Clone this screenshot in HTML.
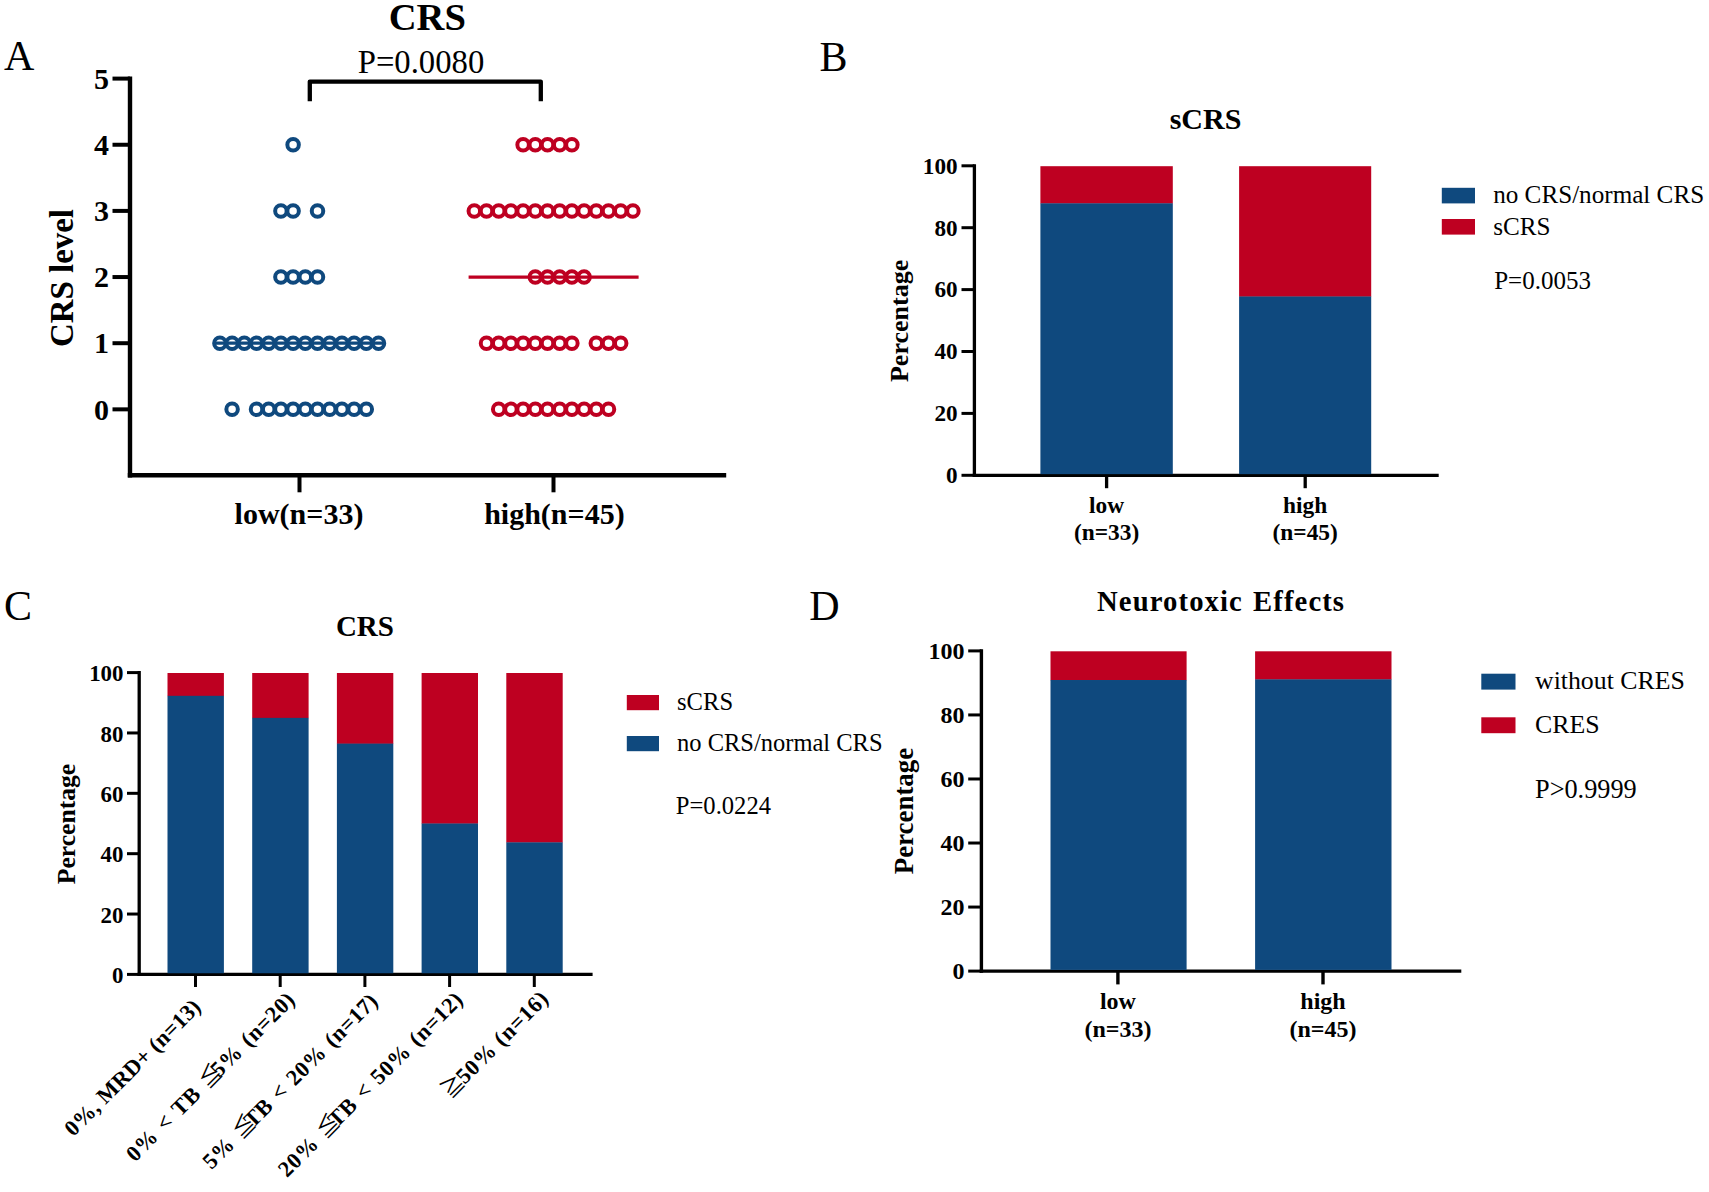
<!DOCTYPE html>
<html lang="en">
<head>
<meta charset="utf-8">
<title>CRS and neurotoxic effects by tumor burden</title>
<style>
html,body{margin:0;padding:0;background:#fff;}
body{width:1709px;height:1192px;overflow:hidden;}
svg{display:block;}
text{font-family:"Liberation Serif","Noto Serif CJK SC",serif;fill:#000;}
text.b{font-weight:bold;}
text.r{font-weight:normal;}
.cj{font-family:"Noto Sans CJK SC","Noto Serif CJK SC",sans-serif;font-weight:normal;}
</style>
</head>
<body>
<svg width="1709" height="1192" viewBox="0 0 1709 1192">
<rect width="1709" height="1192" fill="#ffffff"/>
<text class="r" x="4.00" y="70.40" font-size="42" text-anchor="start">A</text>
<text class="r" x="819.50" y="70.50" font-size="42" text-anchor="start">B</text>
<text class="r" x="4.00" y="620.00" font-size="42" text-anchor="start">C</text>
<text class="r" x="809.30" y="619.50" font-size="42" text-anchor="start">D</text>
<line x1="130.00" y1="76.40" x2="130.00" y2="477.40" stroke="#000" stroke-width="4.4" stroke-linecap="butt"/>
<line x1="127.80" y1="475.20" x2="726.20" y2="475.20" stroke="#000" stroke-width="4.4" stroke-linecap="butt"/>
<line x1="112.50" y1="409.35" x2="130.00" y2="409.35" stroke="#000" stroke-width="4.0" stroke-linecap="butt"/>
<text class="b" x="109.00" y="419.55" font-size="30" text-anchor="end">0</text>
<line x1="112.50" y1="343.20" x2="130.00" y2="343.20" stroke="#000" stroke-width="4.0" stroke-linecap="butt"/>
<text class="b" x="109.00" y="353.40" font-size="30" text-anchor="end">1</text>
<line x1="112.50" y1="277.05" x2="130.00" y2="277.05" stroke="#000" stroke-width="4.0" stroke-linecap="butt"/>
<text class="b" x="109.00" y="287.25" font-size="30" text-anchor="end">2</text>
<line x1="112.50" y1="210.90" x2="130.00" y2="210.90" stroke="#000" stroke-width="4.0" stroke-linecap="butt"/>
<text class="b" x="109.00" y="221.10" font-size="30" text-anchor="end">3</text>
<line x1="112.50" y1="144.75" x2="130.00" y2="144.75" stroke="#000" stroke-width="4.0" stroke-linecap="butt"/>
<text class="b" x="109.00" y="154.95" font-size="30" text-anchor="end">4</text>
<line x1="112.50" y1="78.60" x2="130.00" y2="78.60" stroke="#000" stroke-width="4.0" stroke-linecap="butt"/>
<text class="b" x="109.00" y="88.80" font-size="30" text-anchor="end">5</text>
<line x1="299.50" y1="475.20" x2="299.50" y2="492.30" stroke="#000" stroke-width="4.0" stroke-linecap="butt"/>
<line x1="553.50" y1="475.20" x2="553.50" y2="492.30" stroke="#000" stroke-width="4.0" stroke-linecap="butt"/>
<text class="b" x="299.00" y="524.00" font-size="30" text-anchor="middle">low(n=33)</text>
<text class="b" x="554.40" y="524.00" font-size="30" text-anchor="middle">high(n=45)</text>
<text class="b" x="73.00" y="278.00" font-size="32.9" text-anchor="middle" transform="rotate(-90 73.00 278.00)">CRS level</text>
<text class="b" x="427.30" y="30.40" font-size="38.6" text-anchor="middle">CRS</text>
<text class="r" x="421.00" y="73.00" font-size="32.7" text-anchor="middle">P=0.0080</text>
<path d="M309.8 101.2 V81.6 H540.8 V101.2" fill="none" stroke="#000" stroke-width="4.3" stroke-linejoin="round"/>
<line x1="214.20" y1="343.20" x2="384.20" y2="343.20" stroke="#0f497e" stroke-width="3.2" stroke-linecap="butt"/>
<line x1="468.60" y1="277.05" x2="638.60" y2="277.05" stroke="#be0021" stroke-width="3.2" stroke-linecap="butt"/>
<circle cx="293.10" cy="144.75" r="5.75" fill="none" stroke="#0f497e" stroke-width="4.0"/>
<circle cx="280.90" cy="210.90" r="5.75" fill="none" stroke="#0f497e" stroke-width="4.0"/>
<circle cx="293.10" cy="210.90" r="5.75" fill="none" stroke="#0f497e" stroke-width="4.0"/>
<circle cx="317.50" cy="210.90" r="5.75" fill="none" stroke="#0f497e" stroke-width="4.0"/>
<circle cx="280.90" cy="277.05" r="5.75" fill="none" stroke="#0f497e" stroke-width="4.0"/>
<circle cx="293.10" cy="277.05" r="5.75" fill="none" stroke="#0f497e" stroke-width="4.0"/>
<circle cx="305.30" cy="277.05" r="5.75" fill="none" stroke="#0f497e" stroke-width="4.0"/>
<circle cx="317.50" cy="277.05" r="5.75" fill="none" stroke="#0f497e" stroke-width="4.0"/>
<circle cx="219.90" cy="343.20" r="5.75" fill="none" stroke="#0f497e" stroke-width="4.0"/>
<circle cx="232.10" cy="343.20" r="5.75" fill="none" stroke="#0f497e" stroke-width="4.0"/>
<circle cx="244.30" cy="343.20" r="5.75" fill="none" stroke="#0f497e" stroke-width="4.0"/>
<circle cx="256.50" cy="343.20" r="5.75" fill="none" stroke="#0f497e" stroke-width="4.0"/>
<circle cx="268.70" cy="343.20" r="5.75" fill="none" stroke="#0f497e" stroke-width="4.0"/>
<circle cx="280.90" cy="343.20" r="5.75" fill="none" stroke="#0f497e" stroke-width="4.0"/>
<circle cx="293.10" cy="343.20" r="5.75" fill="none" stroke="#0f497e" stroke-width="4.0"/>
<circle cx="305.30" cy="343.20" r="5.75" fill="none" stroke="#0f497e" stroke-width="4.0"/>
<circle cx="317.50" cy="343.20" r="5.75" fill="none" stroke="#0f497e" stroke-width="4.0"/>
<circle cx="329.70" cy="343.20" r="5.75" fill="none" stroke="#0f497e" stroke-width="4.0"/>
<circle cx="341.90" cy="343.20" r="5.75" fill="none" stroke="#0f497e" stroke-width="4.0"/>
<circle cx="354.10" cy="343.20" r="5.75" fill="none" stroke="#0f497e" stroke-width="4.0"/>
<circle cx="366.30" cy="343.20" r="5.75" fill="none" stroke="#0f497e" stroke-width="4.0"/>
<circle cx="378.50" cy="343.20" r="5.75" fill="none" stroke="#0f497e" stroke-width="4.0"/>
<circle cx="232.10" cy="409.35" r="5.75" fill="none" stroke="#0f497e" stroke-width="4.0"/>
<circle cx="256.50" cy="409.35" r="5.75" fill="none" stroke="#0f497e" stroke-width="4.0"/>
<circle cx="268.70" cy="409.35" r="5.75" fill="none" stroke="#0f497e" stroke-width="4.0"/>
<circle cx="280.90" cy="409.35" r="5.75" fill="none" stroke="#0f497e" stroke-width="4.0"/>
<circle cx="293.10" cy="409.35" r="5.75" fill="none" stroke="#0f497e" stroke-width="4.0"/>
<circle cx="305.30" cy="409.35" r="5.75" fill="none" stroke="#0f497e" stroke-width="4.0"/>
<circle cx="317.50" cy="409.35" r="5.75" fill="none" stroke="#0f497e" stroke-width="4.0"/>
<circle cx="329.70" cy="409.35" r="5.75" fill="none" stroke="#0f497e" stroke-width="4.0"/>
<circle cx="341.90" cy="409.35" r="5.75" fill="none" stroke="#0f497e" stroke-width="4.0"/>
<circle cx="354.10" cy="409.35" r="5.75" fill="none" stroke="#0f497e" stroke-width="4.0"/>
<circle cx="366.30" cy="409.35" r="5.75" fill="none" stroke="#0f497e" stroke-width="4.0"/>
<circle cx="523.10" cy="144.75" r="5.75" fill="none" stroke="#be0021" stroke-width="4.0"/>
<circle cx="535.30" cy="144.75" r="5.75" fill="none" stroke="#be0021" stroke-width="4.0"/>
<circle cx="547.50" cy="144.75" r="5.75" fill="none" stroke="#be0021" stroke-width="4.0"/>
<circle cx="559.70" cy="144.75" r="5.75" fill="none" stroke="#be0021" stroke-width="4.0"/>
<circle cx="571.90" cy="144.75" r="5.75" fill="none" stroke="#be0021" stroke-width="4.0"/>
<circle cx="474.30" cy="210.90" r="5.75" fill="none" stroke="#be0021" stroke-width="4.0"/>
<circle cx="486.50" cy="210.90" r="5.75" fill="none" stroke="#be0021" stroke-width="4.0"/>
<circle cx="498.70" cy="210.90" r="5.75" fill="none" stroke="#be0021" stroke-width="4.0"/>
<circle cx="510.90" cy="210.90" r="5.75" fill="none" stroke="#be0021" stroke-width="4.0"/>
<circle cx="523.10" cy="210.90" r="5.75" fill="none" stroke="#be0021" stroke-width="4.0"/>
<circle cx="535.30" cy="210.90" r="5.75" fill="none" stroke="#be0021" stroke-width="4.0"/>
<circle cx="547.50" cy="210.90" r="5.75" fill="none" stroke="#be0021" stroke-width="4.0"/>
<circle cx="559.70" cy="210.90" r="5.75" fill="none" stroke="#be0021" stroke-width="4.0"/>
<circle cx="571.90" cy="210.90" r="5.75" fill="none" stroke="#be0021" stroke-width="4.0"/>
<circle cx="584.10" cy="210.90" r="5.75" fill="none" stroke="#be0021" stroke-width="4.0"/>
<circle cx="596.30" cy="210.90" r="5.75" fill="none" stroke="#be0021" stroke-width="4.0"/>
<circle cx="608.50" cy="210.90" r="5.75" fill="none" stroke="#be0021" stroke-width="4.0"/>
<circle cx="620.70" cy="210.90" r="5.75" fill="none" stroke="#be0021" stroke-width="4.0"/>
<circle cx="632.90" cy="210.90" r="5.75" fill="none" stroke="#be0021" stroke-width="4.0"/>
<circle cx="535.30" cy="277.05" r="5.75" fill="none" stroke="#be0021" stroke-width="4.0"/>
<circle cx="547.50" cy="277.05" r="5.75" fill="none" stroke="#be0021" stroke-width="4.0"/>
<circle cx="559.70" cy="277.05" r="5.75" fill="none" stroke="#be0021" stroke-width="4.0"/>
<circle cx="571.90" cy="277.05" r="5.75" fill="none" stroke="#be0021" stroke-width="4.0"/>
<circle cx="584.10" cy="277.05" r="5.75" fill="none" stroke="#be0021" stroke-width="4.0"/>
<circle cx="486.50" cy="343.20" r="5.75" fill="none" stroke="#be0021" stroke-width="4.0"/>
<circle cx="498.70" cy="343.20" r="5.75" fill="none" stroke="#be0021" stroke-width="4.0"/>
<circle cx="510.90" cy="343.20" r="5.75" fill="none" stroke="#be0021" stroke-width="4.0"/>
<circle cx="523.10" cy="343.20" r="5.75" fill="none" stroke="#be0021" stroke-width="4.0"/>
<circle cx="535.30" cy="343.20" r="5.75" fill="none" stroke="#be0021" stroke-width="4.0"/>
<circle cx="547.50" cy="343.20" r="5.75" fill="none" stroke="#be0021" stroke-width="4.0"/>
<circle cx="559.70" cy="343.20" r="5.75" fill="none" stroke="#be0021" stroke-width="4.0"/>
<circle cx="571.90" cy="343.20" r="5.75" fill="none" stroke="#be0021" stroke-width="4.0"/>
<circle cx="596.30" cy="343.20" r="5.75" fill="none" stroke="#be0021" stroke-width="4.0"/>
<circle cx="608.50" cy="343.20" r="5.75" fill="none" stroke="#be0021" stroke-width="4.0"/>
<circle cx="620.70" cy="343.20" r="5.75" fill="none" stroke="#be0021" stroke-width="4.0"/>
<circle cx="498.70" cy="409.35" r="5.75" fill="none" stroke="#be0021" stroke-width="4.0"/>
<circle cx="510.90" cy="409.35" r="5.75" fill="none" stroke="#be0021" stroke-width="4.0"/>
<circle cx="523.10" cy="409.35" r="5.75" fill="none" stroke="#be0021" stroke-width="4.0"/>
<circle cx="535.30" cy="409.35" r="5.75" fill="none" stroke="#be0021" stroke-width="4.0"/>
<circle cx="547.50" cy="409.35" r="5.75" fill="none" stroke="#be0021" stroke-width="4.0"/>
<circle cx="559.70" cy="409.35" r="5.75" fill="none" stroke="#be0021" stroke-width="4.0"/>
<circle cx="571.90" cy="409.35" r="5.75" fill="none" stroke="#be0021" stroke-width="4.0"/>
<circle cx="584.10" cy="409.35" r="5.75" fill="none" stroke="#be0021" stroke-width="4.0"/>
<circle cx="596.30" cy="409.35" r="5.75" fill="none" stroke="#be0021" stroke-width="4.0"/>
<circle cx="608.50" cy="409.35" r="5.75" fill="none" stroke="#be0021" stroke-width="4.0"/>
<line x1="974.40" y1="164.15" x2="974.40" y2="476.95" stroke="#000" stroke-width="3.3" stroke-linecap="butt"/>
<line x1="972.75" y1="475.30" x2="1438.70" y2="475.30" stroke="#000" stroke-width="3.3" stroke-linecap="butt"/>
<line x1="961.50" y1="165.80" x2="974.40" y2="165.80" stroke="#000" stroke-width="3.0" stroke-linecap="butt"/>
<text class="b" x="957.60" y="173.64" font-size="23.2" text-anchor="end">100</text>
<line x1="961.50" y1="227.70" x2="974.40" y2="227.70" stroke="#000" stroke-width="3.0" stroke-linecap="butt"/>
<text class="b" x="957.60" y="235.54" font-size="23.2" text-anchor="end">80</text>
<line x1="961.50" y1="289.60" x2="974.40" y2="289.60" stroke="#000" stroke-width="3.0" stroke-linecap="butt"/>
<text class="b" x="957.60" y="297.44" font-size="23.2" text-anchor="end">60</text>
<line x1="961.50" y1="351.50" x2="974.40" y2="351.50" stroke="#000" stroke-width="3.0" stroke-linecap="butt"/>
<text class="b" x="957.60" y="359.34" font-size="23.2" text-anchor="end">40</text>
<line x1="961.50" y1="413.40" x2="974.40" y2="413.40" stroke="#000" stroke-width="3.0" stroke-linecap="butt"/>
<text class="b" x="957.60" y="421.24" font-size="23.2" text-anchor="end">20</text>
<line x1="961.50" y1="475.30" x2="974.40" y2="475.30" stroke="#000" stroke-width="3.0" stroke-linecap="butt"/>
<text class="b" x="957.60" y="483.14" font-size="23.2" text-anchor="end">0</text>
<rect x="1040.40" y="166.20" width="132.40" height="37.42" fill="#be0021"/>
<rect x="1040.40" y="203.32" width="132.40" height="270.83" fill="#0f497e"/>
<rect x="1239.10" y="166.20" width="132.10" height="130.58" fill="#be0021"/>
<rect x="1239.10" y="296.48" width="132.10" height="177.67" fill="#0f497e"/>
<line x1="1106.60" y1="475.30" x2="1106.60" y2="488.20" stroke="#000" stroke-width="3.3" stroke-linecap="butt"/>
<line x1="1305.20" y1="475.30" x2="1305.20" y2="488.20" stroke="#000" stroke-width="3.3" stroke-linecap="butt"/>
<text class="b" x="1106.60" y="512.60" font-size="23.4" text-anchor="middle">low</text>
<text class="b" x="1106.60" y="539.60" font-size="23.4" text-anchor="middle">(n=33)</text>
<text class="b" x="1305.20" y="512.60" font-size="23.4" text-anchor="middle">high</text>
<text class="b" x="1305.20" y="539.60" font-size="23.4" text-anchor="middle">(n=45)</text>
<text class="b" x="908.00" y="320.90" font-size="26.0" text-anchor="middle" transform="rotate(-90 908.00 320.90)">Percentage</text>
<text class="b" x="1205.50" y="129.00" font-size="30.0" text-anchor="middle">sCRS</text>
<rect x="1441.80" y="187.80" width="33.20" height="15.60" fill="#0f497e"/>
<rect x="1441.80" y="219.00" width="33.20" height="15.60" fill="#be0021"/>
<text class="r" x="1493.20" y="203.00" font-size="25.15" text-anchor="start">no CRS/normal CRS</text>
<text class="r" x="1493.20" y="235.10" font-size="25.15" text-anchor="start">sCRS</text>
<text class="r" x="1494.20" y="288.50" font-size="25" text-anchor="start">P=0.0053</text>
<line x1="981.40" y1="649.20" x2="981.40" y2="972.80" stroke="#000" stroke-width="3.4" stroke-linecap="butt"/>
<line x1="979.70" y1="971.10" x2="1461.30" y2="971.10" stroke="#000" stroke-width="3.4" stroke-linecap="butt"/>
<line x1="968.20" y1="650.90" x2="981.40" y2="650.90" stroke="#000" stroke-width="3.0" stroke-linecap="butt"/>
<text class="b" x="964.40" y="659.01" font-size="24.0" text-anchor="end">100</text>
<line x1="968.20" y1="714.94" x2="981.40" y2="714.94" stroke="#000" stroke-width="3.0" stroke-linecap="butt"/>
<text class="b" x="964.40" y="723.05" font-size="24.0" text-anchor="end">80</text>
<line x1="968.20" y1="778.98" x2="981.40" y2="778.98" stroke="#000" stroke-width="3.0" stroke-linecap="butt"/>
<text class="b" x="964.40" y="787.09" font-size="24.0" text-anchor="end">60</text>
<line x1="968.20" y1="843.02" x2="981.40" y2="843.02" stroke="#000" stroke-width="3.0" stroke-linecap="butt"/>
<text class="b" x="964.40" y="851.13" font-size="24.0" text-anchor="end">40</text>
<line x1="968.20" y1="907.06" x2="981.40" y2="907.06" stroke="#000" stroke-width="3.0" stroke-linecap="butt"/>
<text class="b" x="964.40" y="915.17" font-size="24.0" text-anchor="end">20</text>
<line x1="968.20" y1="971.10" x2="981.40" y2="971.10" stroke="#000" stroke-width="3.0" stroke-linecap="butt"/>
<text class="b" x="964.40" y="979.21" font-size="24.0" text-anchor="end">0</text>
<rect x="1050.50" y="651.30" width="136.10" height="29.01" fill="#be0021"/>
<rect x="1050.50" y="680.01" width="136.10" height="289.89" fill="#0f497e"/>
<rect x="1255.10" y="651.30" width="136.40" height="28.36" fill="#be0021"/>
<rect x="1255.10" y="679.36" width="136.40" height="290.54" fill="#0f497e"/>
<line x1="1117.90" y1="971.10" x2="1117.90" y2="984.40" stroke="#000" stroke-width="3.4" stroke-linecap="butt"/>
<line x1="1323.00" y1="971.10" x2="1323.00" y2="984.40" stroke="#000" stroke-width="3.4" stroke-linecap="butt"/>
<text class="b" x="1117.90" y="1008.90" font-size="24" text-anchor="middle">low</text>
<text class="b" x="1117.90" y="1037.30" font-size="24" text-anchor="middle">(n=33)</text>
<text class="b" x="1323.00" y="1008.90" font-size="24" text-anchor="middle">high</text>
<text class="b" x="1323.00" y="1037.30" font-size="24" text-anchor="middle">(n=45)</text>
<text class="b" x="912.80" y="811.00" font-size="26.9" text-anchor="middle" transform="rotate(-90 912.80 811.00)">Percentage</text>
<text class="b" x="1221.10" y="611.30" font-size="28.7" text-anchor="middle" letter-spacing="1.1" word-spacing="1.8">Neurotoxic Effects</text>
<rect x="1481.30" y="673.70" width="34.20" height="15.90" fill="#0f497e"/>
<rect x="1481.30" y="717.30" width="34.20" height="15.90" fill="#be0021"/>
<text class="r" x="1535.00" y="689.10" font-size="25.8" text-anchor="start">without CRES</text>
<text class="r" x="1535.00" y="732.60" font-size="25.8" text-anchor="start">CRES</text>
<text class="r" x="1535.00" y="797.80" font-size="26.3" text-anchor="start">P&gt;0.9999</text>
<line x1="139.20" y1="670.95" x2="139.20" y2="976.05" stroke="#000" stroke-width="3.3" stroke-linecap="butt"/>
<line x1="137.55" y1="974.40" x2="592.60" y2="974.40" stroke="#000" stroke-width="3.3" stroke-linecap="butt"/>
<line x1="127.00" y1="672.60" x2="139.20" y2="672.60" stroke="#000" stroke-width="3.0" stroke-linecap="butt"/>
<text class="b" x="123.50" y="681.24" font-size="22.9" text-anchor="end">100</text>
<line x1="127.00" y1="732.96" x2="139.20" y2="732.96" stroke="#000" stroke-width="3.0" stroke-linecap="butt"/>
<text class="b" x="123.50" y="741.60" font-size="22.9" text-anchor="end">80</text>
<line x1="127.00" y1="793.32" x2="139.20" y2="793.32" stroke="#000" stroke-width="3.0" stroke-linecap="butt"/>
<text class="b" x="123.50" y="801.96" font-size="22.9" text-anchor="end">60</text>
<line x1="127.00" y1="853.68" x2="139.20" y2="853.68" stroke="#000" stroke-width="3.0" stroke-linecap="butt"/>
<text class="b" x="123.50" y="862.32" font-size="22.9" text-anchor="end">40</text>
<line x1="127.00" y1="914.04" x2="139.20" y2="914.04" stroke="#000" stroke-width="3.0" stroke-linecap="butt"/>
<text class="b" x="123.50" y="922.68" font-size="22.9" text-anchor="end">20</text>
<line x1="127.00" y1="974.40" x2="139.20" y2="974.40" stroke="#000" stroke-width="3.0" stroke-linecap="butt"/>
<text class="b" x="123.50" y="983.04" font-size="22.9" text-anchor="end">0</text>
<rect x="167.50" y="673.00" width="56.40" height="23.12" fill="#be0021"/>
<rect x="167.50" y="695.82" width="56.40" height="277.43" fill="#0f497e"/>
<rect x="252.20" y="673.00" width="56.40" height="45.17" fill="#be0021"/>
<rect x="252.20" y="717.87" width="56.40" height="255.38" fill="#0f497e"/>
<rect x="336.90" y="673.00" width="56.40" height="70.91" fill="#be0021"/>
<rect x="336.90" y="743.61" width="56.40" height="229.64" fill="#0f497e"/>
<rect x="421.60" y="673.00" width="56.40" height="150.80" fill="#be0021"/>
<rect x="421.60" y="823.50" width="56.40" height="149.75" fill="#0f497e"/>
<rect x="506.30" y="673.00" width="56.40" height="169.66" fill="#be0021"/>
<rect x="506.30" y="842.36" width="56.40" height="130.89" fill="#0f497e"/>
<line x1="195.50" y1="974.40" x2="195.50" y2="987.00" stroke="#000" stroke-width="3.0" stroke-linecap="butt"/>
<text class="b" x="202.20" y="1008.40" font-size="22.5" text-anchor="end" transform="rotate(-45 202.20 1008.40)" letter-spacing="0.15" word-spacing="0">0%, MRD+ (n=13)</text>
<line x1="280.20" y1="974.40" x2="280.20" y2="987.00" stroke="#000" stroke-width="3.0" stroke-linecap="butt"/>
<text class="b" x="296.60" y="1001.00" font-size="22.5" text-anchor="end" transform="rotate(-45 296.60 1001.00)" letter-spacing="0.6" word-spacing="1.75">0% &lt; TB <tspan class="cj">≦</tspan><tspan dx="-7.0">5% (n=20)</tspan></text>
<line x1="364.90" y1="974.40" x2="364.90" y2="987.00" stroke="#000" stroke-width="3.0" stroke-linecap="butt"/>
<text class="b" x="379.40" y="1002.30" font-size="22.5" text-anchor="end" transform="rotate(-45 379.40 1002.30)" letter-spacing="0.43" word-spacing="1.75">5% <tspan class="cj">≦</tspan><tspan dx="-7.0">TB &lt; 20% (n=17)</tspan></text>
<line x1="449.60" y1="974.40" x2="449.60" y2="987.00" stroke="#000" stroke-width="3.0" stroke-linecap="butt"/>
<text class="b" x="464.40" y="1000.80" font-size="22.5" text-anchor="end" transform="rotate(-45 464.40 1000.80)" letter-spacing="0.51" word-spacing="1.75">20% <tspan class="cj">≦</tspan><tspan dx="-7.0">TB &lt; 50% (n=12)</tspan></text>
<line x1="534.30" y1="974.40" x2="534.30" y2="987.00" stroke="#000" stroke-width="3.0" stroke-linecap="butt"/>
<text class="b" x="550.10" y="999.80" font-size="22.5" text-anchor="end" transform="rotate(-45 550.10 999.80)" letter-spacing="0.72" word-spacing="0"><tspan class="cj">≧</tspan><tspan dx="-3">50% (n=16)</tspan></text>
<text class="b" x="75.00" y="824.00" font-size="25.6" text-anchor="middle" transform="rotate(-90 75.00 824.00)">Percentage</text>
<text class="b" x="364.90" y="636.10" font-size="29.0" text-anchor="middle">CRS</text>
<rect x="626.80" y="695.00" width="32.20" height="15.20" fill="#be0021"/>
<rect x="626.80" y="736.00" width="32.20" height="15.20" fill="#0f497e"/>
<text class="r" x="677.00" y="709.60" font-size="24.6" text-anchor="start">sCRS</text>
<text class="r" x="677.00" y="750.60" font-size="24.5" text-anchor="start">no CRS/normal CRS</text>
<text class="r" x="675.80" y="814.00" font-size="24.6" text-anchor="start">P=0.0224</text>
</svg>
</body>
</html>
